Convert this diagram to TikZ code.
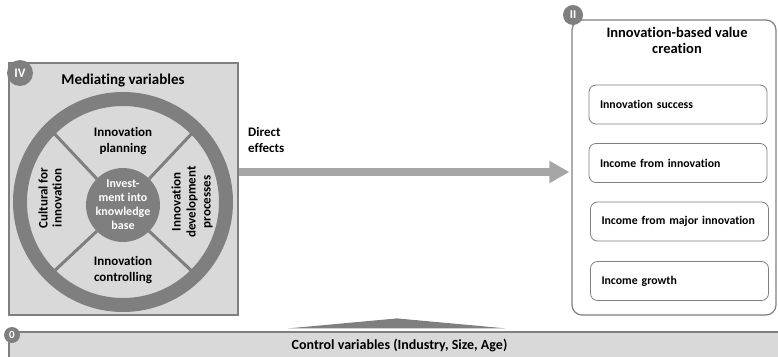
\documentclass[tikz,border=0pt]{standalone}
\usepackage{fontspec}
\setmainfont{Carlito}[RawFeature=-liga]
\usetikzlibrary{arrows.meta,calc}
\definecolor{panelgray}{HTML}{D9D9D9}
\definecolor{edgegray}{HTML}{7F7F7F}
\definecolor{arrowgray}{HTML}{A6A6A6}
\newcommand{\fs}[2]{\fontsize{#1}{#2}\selectfont}
\begin{document}
\begin{tikzpicture}[x=1pt,y=-1pt,
  badge/.style={circle, fill=edgegray, text=white, inner sep=0pt, font=\bfseries\fs{13}{14}},
  panel/.style={draw=edgegray, fill=panelgray, line width=1.2pt, inner sep=0pt},
  valbox/.style={draw=edgegray, fill=white, line width=1.2pt, rounded corners=10pt, inner sep=0pt},
  item/.style={draw=edgegray, fill=white, line width=0.8pt, rounded corners=7pt,
    minimum width=178pt, minimum height=39pt, text width=156pt, align=left,
    inner xsep=11pt, font=\bfseries\fs{11.8}{13}},
  label/.style={align=center, font=\bfseries\fs{13}{16}},
  divider/.style={draw=edgegray, line width=3pt},
  effect/.style={-{Triangle[length=20pt,width=21pt]}, line width=8pt, draw=arrowgray}]
\useasboundingbox (0,0) rectangle (778,356);

% mediating variables panel
\node[panel, minimum width=229pt, minimum height=252pt] (med) at (123.5,189) {};
\node[font=\bfseries\fs{15}{17}] (medtitle) at (123,81) {Mediating variables};

% wheel: outer ring, hub and spokes
\node[circle, draw=edgegray, line width=14pt, minimum size=206pt, inner sep=0pt, outer sep=0pt] (ring) at (123,202) {};
\node[circle, fill=edgegray, minimum size=68pt, inner sep=0pt, outer sep=0pt,
  text=white, align=center, font=\bfseries\fs{12}{14}] (hub) at (123,205)
  {Invest-\\ment into\\knowledge\\base};
\foreach \a in {45,135,225,315}
  \draw[divider] (hub.\a) -- (ring.\a);

\node[label] (plan) at (123,141) {Innovation\\planning};
\node[label] (ctrlg) at (123,270) {Innovation\\controlling};
\node[label, rotate=90, font=\bfseries\fs{13}{14}] (cult) at (50,198) {Cultural for\\innovation};
\node[label, rotate=90, font=\bfseries\fs{13}{15}] (dev) at (192,202) {Innovation\\development\\processes};

\node[badge, minimum size=26pt] (b4) at (20,73) {IV};

% value creation panel
\node[valbox, minimum width=204pt, minimum height=295pt] (val) at (674,167.5) {};
\node[align=center, font=\bfseries\fs{14.5}{16}] (valtitle) at (677,40) {Innovation-based value\\creation};
\node[item] (s1) at (678,104.5) {Innovation success};
\node[item] (s2) at (678,163) {Income from innovation};
\node[item] (s3) at (679.5,221.5) {Income from major innovation};
\node[item] (s4) at (679.5,281) {Income growth};
\node[badge, minimum size=20pt, font=\bfseries\fs{12}{13}] (b2) at (573,15) {II};

% direct effects
\draw[effect] ($(med.east)+(0,-17)$) -- ($(val.west)+(-2,4.5)$);
\node[anchor=north west, align=left, font=\bfseries\fs{13}{16.5}, inner sep=0pt] (direct) at (248,127) {Direct\\effects};

% control variables bar
\node[panel, minimum width=781pt, minimum height=26pt, font=\bfseries\fs{14}{15}] (ctrl) at (399.5,345) {Control variables (Industry, Size, Age)};
\fill[edgegray] ($(ctrl.north)+(-111.5,-3)$) -- ($(ctrl.north)+(-2.5,-13)$) -- ($(ctrl.north)+(106.5,-3)$) -- cycle;
\node[badge, minimum size=16pt, font=\bfseries\fs{11}{12}] (b0) at (12,335) {0};
\end{tikzpicture}
\end{document}
